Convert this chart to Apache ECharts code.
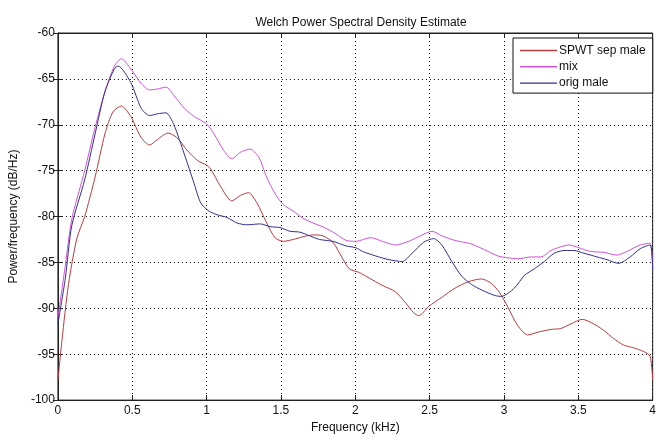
<!DOCTYPE html>
<html>
<head>
<meta charset="utf-8">
<script src="https://cdn.jsdelivr.net/npm/echarts@6/dist/echarts.min.js"></script>
<style>
html,body{margin:0;padding:0;background:#fff;}
#chart{width:659px;height:439px;}
</style>
</head>
<body>
<div id="chart"></div>
<script>
var seriesNames = ['SPWT sep male', 'mix', 'orig male'];
var xTicks = [0, 0.5, 1, 1.5, 2, 2.5, 3, 3.5, 4];
var yTicks = [-100, -95, -90, -85, -80, -75, -70, -65, -60];

var sepFreq = [0,0.027,0.071,0.127,0.18,0.25,0.316,0.37,0.427,0.49,0.56,0.616,0.67,0.74,0.8,0.87,0.94,1.0,1.027,1.093,1.17,1.227,1.282,1.338,1.404,1.46,1.516,1.582,1.649,1.716,1.782,1.849,1.916,1.96,2.027,2.093,2.182,2.27,2.338,2.393,2.427,2.493,2.582,2.671,2.76,2.849,2.916,2.971,3.027,3.093,3.16,3.227,3.316,3.382,3.449,3.527,3.604,3.671,3.738,3.804,3.871,3.938,3.982,4.0];
var sepPower = [-97.9,-93.5,-87.4,-82.4,-80.0,-75.7,-71.0,-68.6,-67.95,-69.1,-71.4,-72.2,-71.6,-70.9,-71.4,-72.8,-73.9,-74.4,-74.8,-76.7,-78.3,-77.7,-77.4,-78.5,-80.7,-82.3,-82.7,-82.5,-82.2,-82.0,-82.1,-82.8,-84.6,-85.7,-86.1,-86.7,-87.5,-88.2,-89.4,-90.5,-90.8,-89.8,-88.8,-87.8,-87.1,-86.8,-87.3,-88.3,-89.9,-91.9,-92.9,-92.6,-92.3,-92.2,-91.7,-91.2,-91.7,-92.4,-93.3,-94.0,-94.3,-94.7,-95.2,-97.8];

var mixFreq = [0,0.05,0.093,0.18,0.25,0.316,0.38,0.427,0.49,0.56,0.616,0.67,0.727,0.78,0.85,0.916,0.96,1.0,1.05,1.115,1.17,1.227,1.293,1.35,1.404,1.46,1.516,1.582,1.649,1.716,1.793,1.871,1.938,2.004,2.104,2.182,2.27,2.36,2.438,2.516,2.582,2.671,2.782,2.893,2.96,3.027,3.093,3.182,3.249,3.316,3.382,3.438,3.504,3.582,3.671,3.76,3.827,3.916,3.982,4.0];
var mixPower = [-91.0,-85.3,-80.3,-75.0,-70.3,-66.4,-63.6,-62.8,-63.9,-65.5,-66.2,-66.1,-65.9,-66.8,-68.2,-69.1,-69.5,-69.9,-71.0,-72.8,-73.7,-73.0,-72.65,-73.5,-75.7,-77.5,-78.7,-79.4,-80.2,-80.7,-81.2,-81.9,-82.6,-82.7,-82.3,-82.7,-83.1,-82.7,-82.1,-81.6,-82.1,-82.6,-83.0,-83.8,-84.3,-84.5,-84.6,-84.4,-84.4,-83.7,-83.3,-83.1,-83.4,-83.8,-83.9,-84.2,-83.8,-83.1,-82.9,-85.8];

var origFreq = [0,0.05,0.093,0.18,0.25,0.316,0.38,0.405,0.49,0.56,0.616,0.67,0.727,0.78,0.85,0.916,0.96,1.015,1.07,1.138,1.204,1.271,1.36,1.427,1.493,1.56,1.627,1.693,1.76,1.849,1.938,2.004,2.049,2.138,2.227,2.316,2.382,2.46,2.527,2.582,2.649,2.716,2.782,2.849,2.938,2.982,3.07,3.138,3.204,3.271,3.338,3.404,3.471,3.538,3.627,3.693,3.771,3.849,3.916,3.982,4.0];
var origPower = [-91.7,-86.7,-81.0,-76.0,-71.0,-66.4,-63.9,-63.6,-65.4,-68.2,-69.0,-68.8,-68.7,-70.0,-73.2,-76.4,-78.5,-79.4,-79.8,-80.1,-80.7,-80.9,-80.8,-81.1,-81.2,-81.6,-81.7,-82.1,-82.5,-82.7,-83.2,-83.4,-83.8,-84.3,-84.7,-84.9,-84.0,-82.8,-82.4,-83.1,-84.9,-86.5,-87.4,-88.0,-88.6,-88.7,-87.8,-86.4,-85.7,-84.9,-84.0,-83.7,-83.7,-84.0,-84.4,-84.7,-85.1,-84.4,-83.5,-83.1,-85.8];

function pairs(f, v) { return f.map(function (x, i) { return [x, v[i]]; }); }

var FONT = '"Liberation Sans", Arial, sans-serif';
var colors = ['#bb3a3e', '#cf52d4', '#30308f'];

var chart = echarts.init(document.getElementById('chart'), null, {renderer: 'canvas'});

var gridLine = {show: true, lineStyle: {color: '#000', width: 1, type: [1, 3]}};
var axisLineStyle = {show: true, lineStyle: {color: '#222', width: 1}};

chart.setOption({
  animation: false,
  backgroundColor: '#fff',
  color: colors,
  title: {
    text: 'Welch Power Spectral Density Estimate',
    left: 356, top: 12, textAlign: 'center',
    textStyle: {fontFamily: FONT, fontSize: 12, fontWeight: 'normal', color: '#111'}
  },
  grid: {left: 56, right: 3, top: 33, bottom: 31, show: true, borderColor: '#222', borderWidth: 1, containLabel: false},
  legend: {
    orient: 'vertical', left: 513, top: 38,
    data: seriesNames.map(function (n) { return {name: n, icon: 'rect'}; }),
    itemWidth: 37, itemHeight: 1.4, itemGap: 0.3,
    padding: [4.5, 7, 2, 7],
    borderColor: '#111', borderWidth: 1, backgroundColor: '#fff',
    textStyle: {fontFamily: FONT, fontSize: 12, lineHeight: 16, color: '#111', padding: [0, 0, 0, -3]}
  },
  xAxis: [{
    type: 'value', min: xTicks[0], max: xTicks[xTicks.length - 1], interval: 0.5,
    name: 'Frequency (kHz)', nameLocation: 'middle', nameGap: 18,
    nameTextStyle: {fontFamily: FONT, fontSize: 12, color: '#111'},
    axisLine: axisLineStyle,
    axisTick: {show: true, inside: true, length: 5, lineStyle: {color: '#222'}},
    axisLabel: {fontFamily: FONT, fontSize: 12, color: '#111', margin: 5},
    splitLine: gridLine
  }, {
    type: 'value', position: 'top', min: xTicks[0], max: xTicks[xTicks.length - 1], interval: 0.5,
    axisLine: axisLineStyle,
    axisTick: {show: true, inside: true, length: 5, lineStyle: {color: '#222'}},
    axisLabel: {show: false}, splitLine: {show: false}
  }],
  yAxis: [{
    type: 'value', min: yTicks[0], max: yTicks[yTicks.length - 1], interval: 5,
    name: 'Power/frequency (dB/Hz)', nameLocation: 'middle', nameGap: 34,
    nameTextStyle: {fontFamily: FONT, fontSize: 12, color: '#111'},
    axisLine: axisLineStyle,
    axisTick: {show: true, inside: true, length: 5, lineStyle: {color: '#222'}},
    axisLabel: {fontFamily: FONT, fontSize: 12, color: '#111', margin: 3},
    splitLine: gridLine
  }, {
    type: 'value', position: 'right', min: yTicks[0], max: yTicks[yTicks.length - 1], interval: 5,
    axisLine: axisLineStyle,
    axisTick: {show: true, inside: true, length: 5, lineStyle: {color: '#222'}},
    axisLabel: {show: false}, splitLine: {show: false}
  }],
  series: [
    {name: seriesNames[0], type: 'line', data: pairs(sepFreq, sepPower), symbol: 'none', smooth: 0.25, lineStyle: {width: 1, color: colors[0]}, itemStyle: {color: colors[0]}},
    {name: seriesNames[1], type: 'line', data: pairs(mixFreq, mixPower), symbol: 'none', smooth: 0.25, lineStyle: {width: 1, color: colors[1]}, itemStyle: {color: colors[1]}},
    {name: seriesNames[2], type: 'line', data: pairs(origFreq, origPower), symbol: 'none', smooth: 0.25, lineStyle: {width: 1, color: colors[2]}, itemStyle: {color: colors[2]}}
  ]
});
</script>
</body>
</html>
